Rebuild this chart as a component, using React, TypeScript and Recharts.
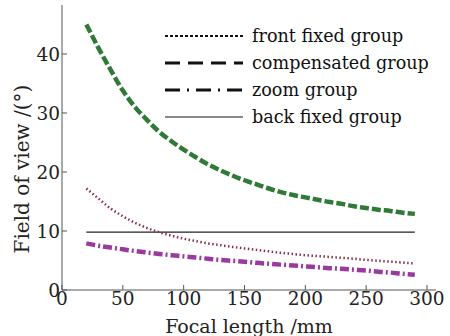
import { LineChart, Line, XAxis, YAxis, Label } from "recharts";

const focal = [20, 30, 40, 50, 60, 70, 80, 90, 100, 110, 120, 130, 140, 150, 160, 170, 180, 190, 200, 210, 220, 230, 240, 250, 260, 270, 280, 290];
const frontFixed = [17.2, 15.5, 13.8, 12.5, 11.4, 10.5, 9.8, 9.2, 8.7, 8.3, 7.9, 7.6, 7.3, 7.05, 6.8, 6.55, 6.3, 6.1, 5.9, 5.75, 5.6, 5.45, 5.3, 5.1, 4.95, 4.8, 4.65, 4.5];
const compensated = [45, 41, 37.3, 33.8, 31, 28.8, 26.8, 25.2, 23.8, 22.5, 21.3, 20.3, 19.4, 18.6, 17.9, 17.2, 16.6, 16.1, 15.7, 15.3, 14.9, 14.6, 14.2, 13.9, 13.6, 13.4, 13.1, 12.9];
const zoomGroup = [7.9, 7.5, 7.2, 6.9, 6.6, 6.35, 6.1, 5.9, 5.7, 5.5, 5.3, 5.1, 4.95, 4.8, 4.6, 4.45, 4.3, 4.15, 4.0, 3.85, 3.7, 3.6, 3.45, 3.3, 3.1, 2.95, 2.75, 2.6];
const backFixed = 9.8;

const xTicks = [0, 50, 100, 150, 200, 250, 300];
const yTicks = [0, 10, 20, 30, 40];

const data = focal.map((f, i) => ({
  f,
  front: frontFixed[i],
  comp: compensated[i],
  zoom: zoomGroup[i],
  back: backFixed,
}));

const font = "DejaVu Serif";
const axisColor = "#555";

const legendItems = [
  { name: "front fixed group", dash: "3 2", width: 2.2 },
  { name: "compensated group", dash: "15 8", width: 3 },
  { name: "zoom group", dash: "15 7 2 7", width: 3 },
  { name: "back fixed group", dash: undefined, width: 1 },
];

// legend drawn on top of the plot, like the original figure
const LegendBox = () => (
  <svg width={285} height={110} style={{ position: "absolute", left: 160, top: 23 }}>
    {legendItems.map((it, i) => (
      <g key={it.name}>
        <line x1={5} x2={83} y1={13 + i * 27} y2={13 + i * 27} stroke="#111" strokeWidth={it.width} strokeDasharray={it.dash} />
        <text x={92} y={13 + i * 27} dy="0.35em" fontSize={17.6} fontFamily={font} fill="#111">
          {it.name}
        </text>
      </g>
    ))}
  </svg>
);

const tickStyle = { fontSize: 18.5, fontFamily: font, fill: "#222" };

const YTitle = () => (
  <text x={22} y={169} transform="rotate(-90 22 169)" textAnchor="middle" dominantBaseline="central" fontSize={20} fontFamily={font} fill="#222">
    Field of view /(°)
  </text>
);

const XTitle = () => (
  <text x={249} y={326} textAnchor="middle" dominantBaseline="central" fontSize={19} fontFamily={font} fill="#222">
    Focal length /mm
  </text>
);

export default function App() {
  return (
    <div style={{ position: "absolute", left: 0, top: 0, background: "#fff", fontFamily: font }}>
      <LineChart width={450} height={336} data={data} margin={{ top: 5, right: 14, left: 0, bottom: 0 }}>
        <XAxis
          dataKey="f"
          type="number"
          domain={[0, 307.4]}
          ticks={xTicks}
          allowDataOverflow
          height={46}
          stroke={axisColor}
          tickSize={-5}
          tickMargin={7}
          tick={tickStyle}
          interval={0}
        >
          <Label content={<XTitle />} />
        </XAxis>
        <XAxis xAxisId="top" orientation="top" dataKey="f" type="number" domain={[0, 307.4]} ticks={xTicks} height={0} stroke={axisColor} tickSize={-4} tick={false} allowDataOverflow />
        <YAxis
          type="number"
          domain={[0, 48.3]}
          ticks={yTicks}
          allowDataOverflow
          width={62}
          stroke={axisColor}
          tickSize={-5}
          tickMargin={7}
          tick={tickStyle}
          interval={0}
        >
          <Label content={<YTitle />} />
        </YAxis>
        <YAxis yAxisId="right" orientation="right" type="number" domain={[0, 48.3]} ticks={yTicks} width={0} stroke={axisColor} tickSize={-4} tick={false} allowDataOverflow />
        <Line dataKey="back" stroke="#222" strokeWidth={1.2} dot={false} isAnimationActive={false} />
        <Line dataKey="front" type="monotone" stroke="#8a3040" strokeWidth={2.5} strokeDasharray="1.5 2.5" dot={false} isAnimationActive={false} />
        <Line dataKey="zoom" type="monotone" stroke="#9a3aa0" strokeWidth={4.5} strokeDasharray="9 3 2 3" dot={false} isAnimationActive={false} />
        <Line dataKey="comp" type="monotone" stroke="#2e7a36" strokeWidth={4.5} strokeDasharray="9 3" dot={false} isAnimationActive={false} />
      </LineChart>
      <LegendBox />
    </div>
  );
}
